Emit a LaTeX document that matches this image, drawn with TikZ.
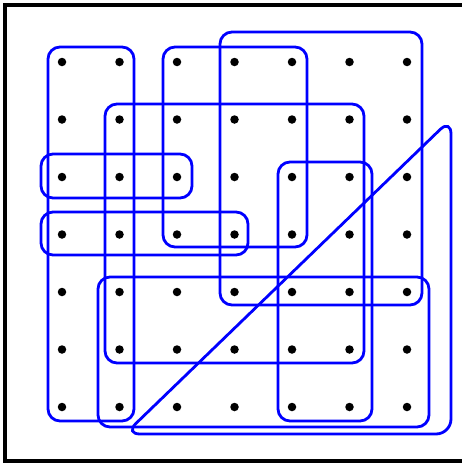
\documentclass[tikz,border=0pt]{standalone}
\usepackage{tikz}
\begin{document}
\begin{tikzpicture}[
	x=1pt, y=-1pt,
	vertex/.style={circle, fill=black, inner sep=0pt, minimum size=8.5pt},
	hedge/.style={draw=blue, line width=2.8pt, rounded corners=12pt}
]
\useasboundingbox (0,0) rectangle (461,463);
\draw[line width=4pt] (5,5) rectangle (480,461);

% grid of vertices
\foreach \i in {0,...,6}
	\foreach \j in {0,...,6}
		\node[vertex] (v\i\j) at ({62+57.5*\i},{62+57.5*\j}) {};

% hyperedges
\draw[hedge] (48,47) rectangle (134,421);
\draw[hedge] (163,47) rectangle (307,247);
\draw[hedge] (220,32) rectangle (422,305);
\draw[hedge] (105,104) rectangle (364,363);
\draw[hedge] (41,154) rectangle (192,198);
\draw[hedge] (41,212) rectangle (248,255);
\draw[hedge] (278,162) rectangle (372,421);
\draw[hedge] (98,277) rectangle (429,427);
\draw[hedge, rounded corners=15pt] (125,434) -- (451,119) -- (451,434) -- cycle;
\end{tikzpicture}
\end{document}
